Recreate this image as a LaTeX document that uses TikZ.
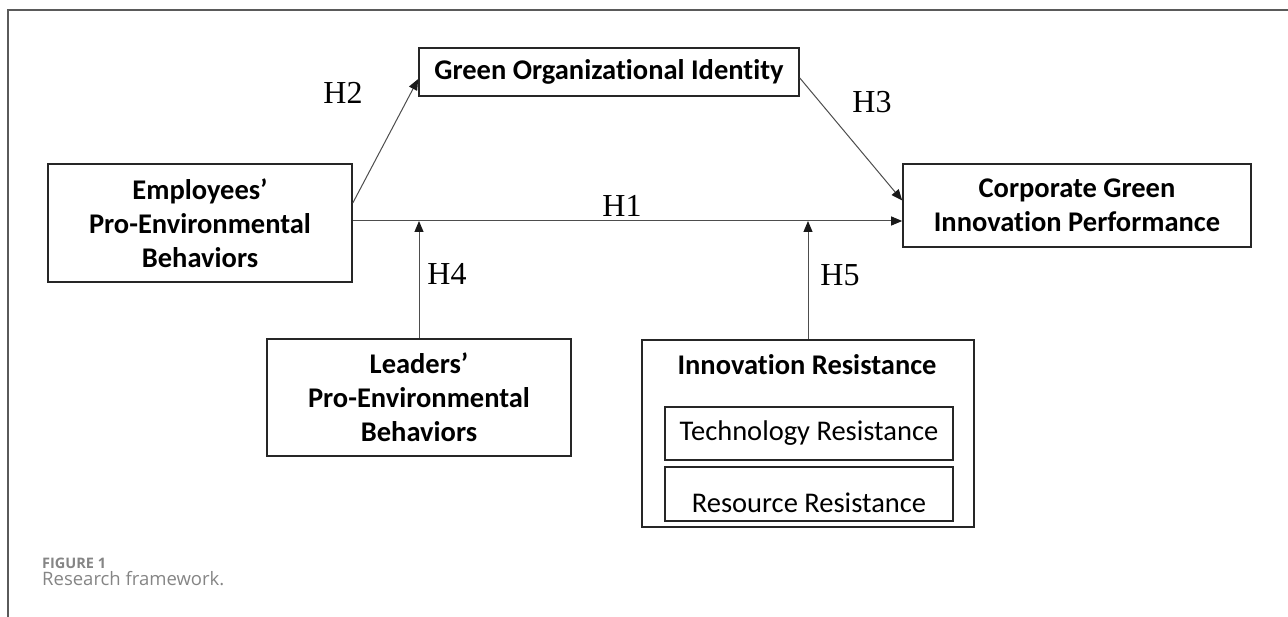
\documentclass[tikz,border=0pt]{standalone}
\usepackage{fontspec}
\setmainfont[Ligatures=NoCommon]{Carlito}
\newfontfamily\hfont{Liberation Serif}
\newfontfamily\capfont{Open Sans}
\usetikzlibrary{arrows.meta,calc}

\definecolor{boxline}{HTML}{262626}
\definecolor{conline}{HTML}{4D4D4D}
\definecolor{framecol}{HTML}{5A5A5A}
\definecolor{capgray}{HTML}{858585}

\begin{document}
\begin{tikzpicture}[x=1pt,y=-1pt,
  box/.style={draw=boxline,line width=1.6pt,inner sep=0pt,align=center,
    font=\fontsize{28.5}{34}\selectfont\bfseries},
  subbox/.style={draw=boxline,line width=1.6pt,inner sep=0pt},
  boxtext/.style={inner sep=0pt,font=\fontsize{28.5}{34}\selectfont\bfseries},
  subtext/.style={inner sep=0pt,font=\fontsize{28.5}{34}\selectfont},
  conn/.style={draw=conline,line width=1pt,
    -{Triangle[length=11pt,width=9pt,color=black!90]}},
  hyp/.style={inner sep=0pt,font=\fontsize{32}{32}\selectfont\hfont},
  frameline/.style={draw=framecol,line width=1.8pt}]

\useasboundingbox (0,0) rectangle (1288,617);

% outer frame
\draw[frameline] (8,617) -- (8,10) -- (1288,10);

% constructs
\node[box,minimum width=304pt,minimum height=118pt] (emp) at (200,223)
  {Employees’\\Pro-Environmental\\Behaviors};
\node[box,minimum width=380pt,minimum height=48pt] (goi) at (609,72)
  {Green Organizational Identity};
\node[box,minimum width=348pt,minimum height=83pt] (cgip) at (1077,205.5)
  {Corporate Green\\Innovation Performance};
\node[box,minimum width=304pt,minimum height=117pt] (lead) at (419,397.5)
  {Leaders’\\Pro-Environmental\\Behaviors};

% innovation resistance with its two dimensions
\node[subbox,minimum width=332pt,minimum height=187pt] (ir) at (808,433.5) {};
\node[boxtext] (irtitle) at (807,365) {Innovation Resistance};
\node[subbox,minimum width=288pt,minimum height=53pt] (tech) at (809,433.5) {};
\node[subtext] (techtext) at (tech.center) {Technology Resistance};
\node[subbox,minimum width=288pt,minimum height=54pt] (res) at (809,494) {};
\node[subtext] (restext) at ([yshift=-9pt]res.center) {Resource Resistance};

% paths
\coordinate (h1a) at ([yshift=2pt]emp.east);
\coordinate (h1b) at (h1a -| cgip.west);
\draw[conn] (h1a) -- (h1b);
\draw[conn] ([yshift=20pt]emp.east) -- ([yshift=-7pt]goi.west);
\draw[conn] ([yshift=-6pt]goi.east) -- ([yshift=5pt]cgip.west);
\draw[conn] (lead.north) -- (lead.north |- h1a);
\draw[conn] (ir.north) -- (ir.north |- h1a);

% hypothesis labels
\node[hyp] (lh1) at (622,206) {H1};
\node[hyp] (lh2) at (343,93) {H2};
\node[hyp] (lh3) at (872,102) {H3};
\node[hyp] (lh4) at (447,274) {H4};
\node[hyp] (lh5) at (840,275) {H5};

% caption
\node[anchor=base west,inner sep=0pt,text=capgray,
  font=\fontsize{14.5}{15}\selectfont\capfont\bfseries] (figno) at (42,568) {FIGURE 1};
\node[anchor=base west,inner sep=0pt,text=capgray,
  font=\fontsize{18.5}{20}\selectfont\capfont] (figcap) at (42,585) {Research framework.};
\end{tikzpicture}
\end{document}
